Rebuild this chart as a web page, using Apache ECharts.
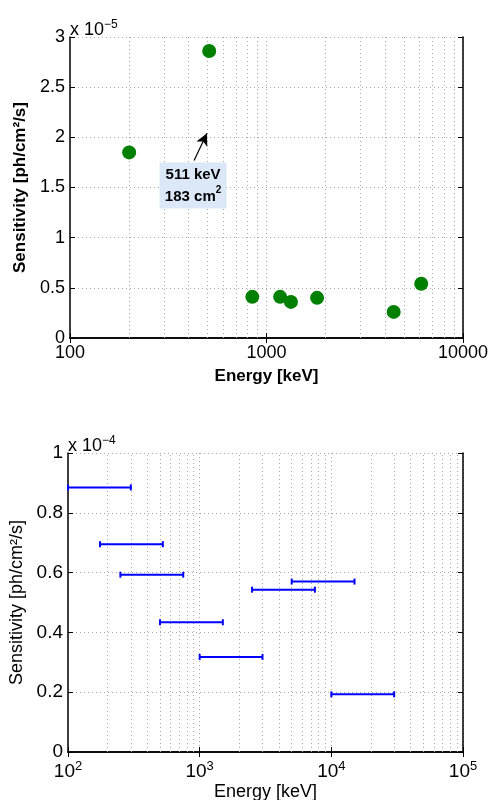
<!DOCTYPE html>
<html>
<head>
<meta charset="utf-8">
<script src="https://cdn.jsdelivr.net/npm/echarts@6/dist/echarts.min.js"></script>
<style>
  html, body { margin: 0; padding: 0; background: #fff; }
  #main { width: 493px; height: 800px; }
</style>
</head>
<body>
<div id="main"></div>
<script>
// 上图：各谱线灵敏度 (单位 1e-5 ph/cm2/s)
var lineEnergy = [200, 511, 847, 1173, 1332, 1809, 4438, 6129];
var lineSens   = [1.85, 2.86, 0.41, 0.41, 0.36, 0.40, 0.26, 0.54];
var topYTicks  = [0, 0.5, 1, 1.5, 2, 2.5, 3];
var topXTicks  = ['100', '1000', '10000'];
// 511 keV 标注 (箭头起点 / 终点, 标注框中心)
var arrowFrom = [428, 1.77];
var arrowTo   = [498, 2.04];
var noteAt    = [423, 1.52];
var noteText  = ['511 keV', '183 cm', '2'];

// 下图：连续谱灵敏度 (单位 1e-4 ph/cm2/s)
var binLo   = [100, 175, 250, 500, 1000, 2500, 5000, 10000];
var binHi   = [300, 525, 750, 1500, 3000, 7500, 15000, 30000];
var binSens = [0.885, 0.695, 0.593, 0.434, 0.318, 0.543, 0.570, 0.193];

var FONT = 'Liberation Sans';
var gridDot = { color: '#a8a8a8', width: 1, type: [1, 3] };

//对数轴次网格线
function minorLines(lo, hi) {
	var arr = [];
	for (var d = lo; d < hi; d *= 10) {
		for (var k = 2; k <= 9; k++) {
			arr.push({ xAxis: d * k });
		}
	}
	return arr;
}

function frameAxis(type, grid, pos, min, max, interval) {
	var ax = {
		type: type,
		gridIndex: grid,
		position: pos,
		min: min,
		max: max,
		axisLine: { show: true, lineStyle: { color: '#000', width: 1.5 } },
		axisTick: { show: true, inside: true, length: 5, lineStyle: { color: '#000' } },
		axisLabel: { show: false },
		splitLine: { show: false }
	};
	if (interval) ax.interval = interval;
	if (type == 'log') ax.logBase = 10;
	return ax;
}

var chart = echarts.init(document.getElementById('main'));

var xTop = frameAxis('log', 0, 'bottom', 100, 10000);
xTop.axisLabel = {
	show: true, color: '#000', fontFamily: FONT, fontSize: 18, margin: 6,
	formatter: function (v) { return String(Math.round(v)); }
};
xTop.splitLine = { show: true, lineStyle: gridDot };
xTop.name = 'Energy [keV]';
xTop.nameLocation = 'middle';
xTop.nameGap = 30;
xTop.nameTextStyle = { color: '#000', fontFamily: FONT, fontSize: 17, fontWeight: 'bold' };

var yTop = frameAxis('value', 0, 'left', 0, 3, 0.5);
yTop.axisLabel = { show: true, color: '#000', fontFamily: FONT, fontSize: 18, margin: 5 };
yTop.splitLine = { show: true, lineStyle: gridDot };
yTop.name = 'Sensitivity [ph/cm\u00b2/s]';
yTop.nameLocation = 'middle';
yTop.nameGap = 33;
yTop.nameTextStyle = { color: '#000', fontFamily: FONT, fontSize: 17, fontWeight: 'bold' };

var xBot = frameAxis('log', 1, 'bottom', 100, 100000);
xBot.axisLabel = {
	show: true, color: '#000', fontFamily: FONT, margin: 8,
	formatter: function (v) { return '{b|10}{s|' + Math.round(Math.log10(v)) + '}'; },
	rich: {
		b: { fontFamily: FONT, fontSize: 19, color: '#000' },
		s: { fontFamily: FONT, fontSize: 13, color: '#000', verticalAlign: 'top', padding: [0, 0, 10, 0] }
	}
};
xBot.splitLine = { show: true, lineStyle: gridDot };
xBot.name = 'Energy [keV]';
xBot.nameLocation = 'middle';
xBot.nameGap = 31;
xBot.nameTextStyle = { color: '#000', fontFamily: FONT, fontSize: 18 };

var yBot = frameAxis('value', 1, 'left', 0, 1, 0.2);
yBot.axisLabel = {
	show: true, color: '#000', fontFamily: FONT, fontSize: 19, margin: 5,
	formatter: function (v) { return String(parseFloat(v.toFixed(1))); }
};
yBot.splitLine = { show: true, lineStyle: gridDot };
yBot.name = 'Sensitivity [ph/cm\u00b2/s]';
yBot.nameLocation = 'middle';
yBot.nameGap = 32;
yBot.nameTextStyle = { color: '#000', fontFamily: FONT, fontSize: 18 };

var scatterData = lineEnergy.map(function (e, i) { return [e, lineSens[i]]; });
var binData = binLo.map(function (lo, i) { return [lo, binHi[i], binSens[i]]; });

function renderBin(params, api) {
	var p1 = api.coord([api.value(0), api.value(2)]);
	var p2 = api.coord([api.value(1), api.value(2)]);
	var h = 3;
	var st = { stroke: '#0000ff', lineWidth: 2 };
	return {
		type: 'group',
		children: [
			{ type: 'line', shape: { x1: p1[0], y1: p1[1], x2: p2[0], y2: p2[1] }, style: st },
			{ type: 'line', shape: { x1: p1[0], y1: p1[1] - h, x2: p1[0], y2: p1[1] + h }, style: st },
			{ type: 'line', shape: { x1: p2[0], y1: p2[1] - h, x2: p2[0], y2: p2[1] + h }, style: st }
		]
	};
}

var option = {
	backgroundColor: '#fff',
	animation: false,
	textStyle: { fontFamily: FONT },
	grid: [
		{ left: 70, top: 37, width: 393, height: 301, outerBoundsMode: 'none' },
		{ left: 68, top: 453, width: 395, height: 299, outerBoundsMode: 'none' }
	],
	xAxis: [
		xTop,
		frameAxis('log', 0, 'top', 100, 10000),
		xBot,
		frameAxis('log', 1, 'top', 100, 100000)
	],
	yAxis: [
		yTop,
		frameAxis('value', 0, 'right', 0, 3, 0.5),
		yBot,
		frameAxis('value', 1, 'right', 0, 1, 0.2)
	],
	graphic: [
		{
			type: 'text', left: 70, top: 19, silent: true,
			style: {
				text: '{b|x 10}{s|\u22125}',
				rich: {
					b: { fontFamily: FONT, fontSize: 18, fill: '#000' },
					s: { fontFamily: FONT, fontSize: 12, fill: '#000', verticalAlign: 'top', padding: [0, 0, 10, 0] }
				}
			}
		},
		{
			type: 'text', left: 68, top: 435, silent: true,
			style: {
				text: '{b|x 10}{s|\u22124}',
				rich: {
					b: { fontFamily: FONT, fontSize: 18, fill: '#000' },
					s: { fontFamily: FONT, fontSize: 12, fill: '#000', verticalAlign: 'top', padding: [0, 0, 10, 0] }
				}
			}
		}
	],
	series: [
		{
			type: 'line',
			xAxisIndex: 0, yAxisIndex: 0,
			data: [],
			silent: true,
			markLine: {
				silent: true, symbol: 'none', label: { show: false },
				lineStyle: gridDot,
				data: minorLines(100, 10000)
			}
		},
		{
			type: 'scatter',
			xAxisIndex: 0, yAxisIndex: 0,
			symbolSize: 14,
			itemStyle: { color: '#008000', opacity: 1 },
			data: scatterData,
			z: 5,
			markLine: {
				silent: true,
				symbol: ['none', 'arrow'],
				symbolSize: [9, 12],
				label: { show: false },
				lineStyle: { color: '#000', width: 1.2, type: 'solid' },
				data: [[{ coord: arrowFrom }, { coord: arrowTo }]]
			},
			markPoint: {
				silent: true,
				symbol: 'rect',
				symbolSize: [67, 46],
				itemStyle: { color: '#dce8f8' },
				label: {
					show: true,
					position: 'inside',
					formatter: '{a|' + noteText[0] + '}\n{a|' + noteText[1] + '}{s|' + noteText[2] + '}',
					rich: {
						a: { fontFamily: FONT, fontSize: 15, fontWeight: 'bold', color: '#000', lineHeight: 22 },
						s: { fontFamily: FONT, fontSize: 10, fontWeight: 'bold', color: '#000', verticalAlign: 'top', padding: [0, 0, 8, 0] }
					}
				},
				data: [{ coord: noteAt }]
			}
		},
		{
			type: 'line',
			xAxisIndex: 2, yAxisIndex: 2,
			data: [],
			silent: true,
			markLine: {
				silent: true, symbol: 'none', label: { show: false },
				lineStyle: gridDot,
				data: minorLines(100, 100000)
			}
		},
		{
			type: 'custom',
			xAxisIndex: 2, yAxisIndex: 2,
			renderItem: renderBin,
			encode: { x: [0, 1], y: 2 },
			data: binData,
			z: 5
		}
	]
};
chart.setOption(option);
</script>
</body>
</html>
